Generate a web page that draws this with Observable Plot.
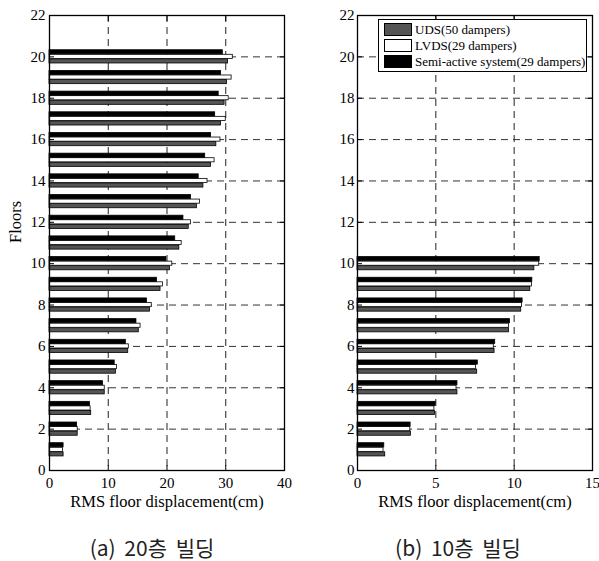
<!DOCTYPE html>
<html><head><meta charset="utf-8">
<script src="https://cdn.jsdelivr.net/npm/d3@7"></script>
<script src="https://cdn.jsdelivr.net/npm/@observablehq/plot@0.6"></script>
<style>
body{margin:0;background:#fff;}
#wrap{position:relative;width:599px;height:561px;overflow:hidden;background:#fff;}
.panel{position:absolute;top:0;}
.panel svg{overflow:visible;}
.panel svg text, .panel svg g{font-family:"Liberation Serif",serif !important;font-variant:normal !important;font-variant-numeric:normal !important;}
.cap{position:absolute;top:534px;font-family:"Noto Sans CJK KR","Noto Sans";font-size:21px;line-height:26px;word-spacing:4px;color:#222;transform:translateX(-50%);white-space:nowrap;}
#legend{position:absolute;left:378px;top:19px;width:209px;height:53px;border:1px solid #000;background:#fff;box-sizing:border-box;font-family:"Liberation Serif";font-size:13px;color:#000;}
.lrow{position:absolute;left:5px;height:13px;display:flex;align-items:center;}
.sw{width:28px;height:13px;border:1px solid #000;box-sizing:border-box;margin-right:3px;}
</style></head>
<body><div id="wrap"></div>
<script>
// ---- data ----
const series = ["UDS(50 dampers)", "LVDS(29 dampers)", "Semi-active system(29 dampers)"];
const seriesColors = ["#555555", "#ffffff", "#000000"];

const floors20 = [1,2,3,4,5,6,7,8,9,10,11,12,13,14,15,16,17,18,19,20];
const uds20  = [2.4,4.8,7.1,9.4,11.3,13.4,15.2,17.1,18.9,20.5,22.1,23.7,25.1,26.2,27.5,28.4,29.2,29.8,30.2,30.4];
const lvds20 = [2.3,4.8,7.0,9.4,11.5,13.5,15.5,17.4,19.3,20.9,22.5,24.1,25.6,26.9,28.1,29.1,30.0,30.5,31.0,31.2];
const semi20 = [2.4,4.7,6.9,9.1,11.1,13.0,14.8,16.6,18.3,19.9,21.4,22.8,24.1,25.4,26.5,27.5,28.2,28.8,29.2,29.5];

const floors10 = [1,2,3,4,5,6,7,8,9,10];
const uds10  = [1.77,3.41,4.95,6.38,7.64,8.75,9.67,10.45,11.03,11.29];
const lvds10 = [1.66,3.37,4.91,6.32,7.57,8.70,9.67,10.50,11.14,11.60];
const semi10 = [1.71,3.39,4.99,6.38,7.68,8.79,9.73,10.54,11.16,11.63];

const xTicks20 = [0,10,20,30,40];
const xTicks10 = [0,5,10,15];
const yTicks = [0,2,4,6,8,10,12,14,16,18,20,22];

const xTitle = "RMS floor displacement(cm)";
const yTitle = "Floors";
const captions = ["(a) 20층 빌딩", "(b) 10층 빌딩"];

// ---- build ----
const barOffset = [-0.22, 0, 0.22]; // UDS bottom, LVDS middle, Semi-active top (floor units)
const barHalf = 0.1;
function rows(floors, arrs) {
  const out = [];
  floors.forEach((f, i) => {
    arrs.forEach((a, s) => {
      out.push({floor: f, value: a[i], series: series[s],
        y1: f + barOffset[s] - barHalf, y2: f + barOffset[s] + barHalf});
    });
  });
  return out;
}

const serif = "Liberation Serif";
function panel(data, xTicks, opts) {
  const xMax = xTicks[xTicks.length - 1];
  const yMax = yTicks[yTicks.length - 1];
  const marks = [
    Plot.ruleX(xTicks.slice(1, -1), {stroke: "#222", strokeWidth: 1, strokeDasharray: "7,5"}),
    Plot.ruleY(yTicks.slice(1, -1), {stroke: "#333", strokeWidth: 1, strokeDasharray: "7,5"}),
    Plot.rectX(data, {x: "value", y1: "y1", y2: "y2", fill: "series", stroke: "#000", strokeWidth: 0.8}),
    Plot.frame({stroke: "#000", strokeWidth: 1.3}),
    Plot.axisX({anchor: "bottom", ticks: xTicks, tickSize: -5, tickPadding: 12, tickFormat: d => String(d), label: null, fontSize: 15, fontFamily: serif, fontVariant: "normal"}),
    Plot.axisX({anchor: "top", ticks: xTicks, tickSize: -5, text: null, tickFormat: null, label: null}),
    Plot.axisY({anchor: "left", ticks: yTicks, tickSize: -5, tickPadding: opts.yPad, tickFormat: d => String(d), label: null, fontSize: 15, fontFamily: serif, fontVariant: "normal"}),
    Plot.axisY({anchor: "right", ticks: yTicks, tickSize: -5, text: null, tickFormat: null, label: null}),
    Plot.text([xTitle], {frameAnchor: "bottom", dy: 31, fontSize: 16.5, fontFamily: serif, lineAnchor: "middle"})
  ];
  if (opts.yLabel) {
    marks.push(Plot.text([yTitle], {frameAnchor: "left", dx: -34, rotate: -90, fontSize: 16.5, fontFamily: serif, lineAnchor: "middle"}));
  }
  return Plot.plot({
    width: opts.width, height: 520,
    marginLeft: opts.ml, marginRight: opts.mr, marginTop: 15, marginBottom: 50,
    style: {fontFamily: serif, fontSize: "15px", color: "#000", background: "transparent"},
    x: {domain: [0, xMax]},
    y: {domain: [0, yMax]},
    color: {domain: series, range: seriesColors},
    marks
  });
}

const wrap = document.getElementById("wrap");
const p1 = panel(rows(floors20, [uds20, lvds20, semi20]), xTicks20, {width: 300, ml: 49, mr: 16, yPad: 9, yLabel: true});
const d1 = document.createElement("div"); d1.className = "panel"; d1.style.left = "0px"; d1.appendChild(p1); wrap.appendChild(d1);
const p2 = panel(rows(floors10, [uds10, lvds10, semi10]), xTicks10, {width: 299, ml: 57, mr: 7, yPad: 8, yLabel: false});
const d2 = document.createElement("div"); d2.className = "panel"; d2.style.left = "300px"; d2.appendChild(p2); wrap.appendChild(d2);

// legend
const lg = document.createElement("div"); lg.id = "legend";
series.forEach((s, i) => {
  const r = document.createElement("div"); r.className = "lrow"; r.style.top = (3 + i * 16) + "px";
  const sw = document.createElement("div"); sw.className = "sw"; sw.style.background = seriesColors[i];
  const t = document.createElement("span"); t.textContent = s;
  r.appendChild(sw); r.appendChild(t); lg.appendChild(r);
});
wrap.appendChild(lg);

// captions
[152, 458].forEach((cx, i) => {
  const c = document.createElement("div"); c.className = "cap"; c.style.left = cx + "px"; c.textContent = captions[i];
  wrap.appendChild(c);
});
</script></body></html>
